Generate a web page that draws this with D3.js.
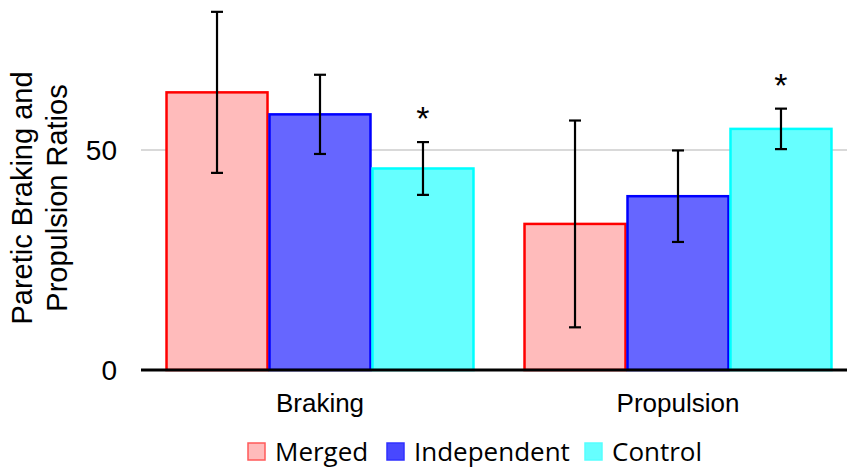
<!DOCTYPE html>
<html>
<head>
<meta charset="utf-8">
<script src="https://cdn.jsdelivr.net/npm/d3@7"></script>
<style>
  html, body { margin: 0; padding: 0; background: #fff; }
  svg { display: block; }
</style>
</head>
<body>
<svg id="chart" width="847" height="471"></svg>
<script>
// Categories, groups and values
const categories = ["Braking", "Propulsion"];
const groups = ["Merged", "Independent", "Control"];
const mergedValues = [63.1, 33.2];
const mergedErrors = [18.3, 23.5];
const independentValues = [58.1, 39.5];
const independentErrors = [9.0, 10.4];
const controlValues = [45.8, 54.8];
const controlErrors = [6.0, 4.6];
const controlSignificant = [true, true];
const yTicks = [0, 50];
const yTitleLines = ["Paretic Braking and", "Propulsion Ratios"];

const fills = { Merged: "#ffbbbb", Independent: "#6666ff", Control: "#66ffff" };
const strokes = { Merged: "#ff0000", Independent: "#0000ff", Control: "#00ffff" };
const legendFills = { Merged: "#ffbbbb", Independent: "#4848ff", Control: "#66ffff" };
const legendStrokes = { Merged: "#ff5a5a", Independent: "#3030ff", Control: "#55ffff" };

const seriesData = {
  Merged: { values: mergedValues, errors: mergedErrors, sig: [false, false] },
  Independent: { values: independentValues, errors: independentErrors, sig: [false, false] },
  Control: { values: controlValues, errors: controlErrors, sig: controlSignificant }
};

const rows = [];
categories.forEach((cat, i) => {
  groups.forEach(g => {
    rows.push({ cat, group: g, value: seriesData[g].values[i], err: seriesData[g].errors[i], sig: seriesData[g].sig[i] });
  });
});

const svg = d3.select("#chart");
const axisFont = "'Liberation Sans', Arial, sans-serif";
const legendFont = "'Open Sans', 'Noto Sans', sans-serif";

const x0 = d3.scaleBand().domain(categories).range([141, 857]).paddingInner(0.137).paddingOuter(0.0685);
const x1 = d3.scaleBand().domain(groups).range([0, x0.bandwidth()]).padding(0);
const y = d3.scaleLinear().domain([0, 80]).range([370, 18]);

// Gridlines
svg.append("g").selectAll("line")
  .data(yTicks.filter(t => t !== 0))
  .join("line")
  .attr("x1", 141).attr("x2", 847)
  .attr("y1", d => y(d)).attr("y2", d => y(d))
  .attr("stroke", "#d9d9d9").attr("stroke-width", 2);

// Y tick labels
svg.append("g").selectAll("text")
  .data(yTicks)
  .join("text")
  .attr("x", 117).attr("y", d => y(d))
  .attr("dy", "0.35em")
  .attr("text-anchor", "end")
  .attr("font-family", axisFont).attr("font-size", 28)
  .attr("fill", "#000")
  .text(d => d);

// Bars
svg.append("g").selectAll("rect")
  .data(rows)
  .join("rect")
  .attr("x", d => x0(d.cat) + x1(d.group) + 1)
  .attr("width", x1.bandwidth() - 2)
  .attr("y", d => y(d.value))
  .attr("height", d => y(0) - y(d.value))
  .attr("fill", d => fills[d.group])
  .attr("stroke", d => strokes[d.group])
  .attr("stroke-width", 2.5);

// Error bars
const eb = svg.append("g").attr("stroke", "#000").attr("stroke-width", 2.2);
rows.forEach(d => {
  const cx = x0(d.cat) + x1(d.group) + x1.bandwidth() / 2;
  const yt = y(d.value + d.err), yb = y(d.value - d.err);
  eb.append("line").attr("x1", cx).attr("x2", cx).attr("y1", yt).attr("y2", yb);
  eb.append("line").attr("x1", cx - 6).attr("x2", cx + 6).attr("y1", yt).attr("y2", yt);
  eb.append("line").attr("x1", cx - 6).attr("x2", cx + 6).attr("y1", yb).attr("y2", yb);
});

// Significance markers
svg.append("g").selectAll("text")
  .data(rows.filter(d => d.sig))
  .join("text")
  .attr("x", d => x0(d.cat) + x1(d.group) + x1.bandwidth() / 2)
  .attr("y", d => y(d.value + d.err) - 12)
  .attr("text-anchor", "middle")
  .attr("font-family", axisFont).attr("font-size", 34)
  .text("*");

// X axis line
svg.append("line")
  .attr("x1", 141).attr("x2", 847)
  .attr("y1", y(0)).attr("y2", y(0))
  .attr("stroke", "#000").attr("stroke-width", 3);

// Category labels
svg.append("g").selectAll("text")
  .data(categories)
  .join("text")
  .attr("x", d => x0(d) + x0.bandwidth() / 2)
  .attr("y", 412)
  .attr("text-anchor", "middle")
  .attr("font-family", axisFont).attr("font-size", 26)
  .text(d => d);

// Y axis title
const yTitle = svg.append("text")
  .attr("transform", "translate(0,198) rotate(-90)")
  .attr("text-anchor", "middle")
  .attr("font-family", axisFont).attr("font-size", 29);
yTitleLines.forEach((t, i) => {
  yTitle.append("tspan").attr("x", 0).attr("y", 32 + i * 35).text(t);
});

// Legend
const legendX = [248, 387, 585];
const legend = svg.append("g");
groups.forEach((g, i) => {
  const lg = legend.append("g").attr("transform", `translate(${legendX[i]},443)`);
  lg.append("rect").attr("x", 0).attr("y", 0).attr("width", 17).attr("height", 17)
    .attr("fill", legendFills[g]).attr("stroke", legendStrokes[g]).attr("stroke-width", 1.5);
  lg.append("text").attr("x", 27).attr("y", 17.5)
    .attr("font-family", legendFont).attr("font-size", 26)
    .text(g);
});
</script>
</body>
</html>
